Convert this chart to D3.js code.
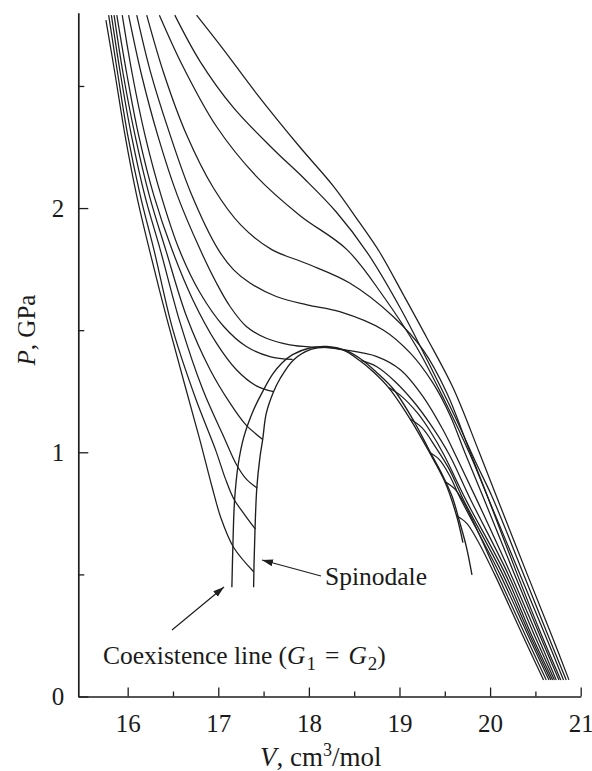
<!DOCTYPE html>
<html>
<head>
<meta charset="utf-8">
<script src="https://cdn.jsdelivr.net/npm/d3@7/dist/d3.min.js"></script>
<style>
  body { margin: 0; background: #fff; }
  svg text { font-family: "Liberation Serif", "Times New Roman", serif; fill: #1a1a1a; }
</style>
</head>
<body>
<div id="canvas"></div>
<script>
const width = 592;
const height = 771;

// isotherms, hottest first, points are [V cm3/mol, P GPa]
const iso1 = [[16.76,2.79],[17.06,2.648],[17.42,2.47],[17.90,2.25],[18.27,2.09],[18.56,1.94],[18.78,1.82],[19.05,1.64],[19.30,1.47],[19.59,1.265],[19.88,1.0],[20.07,0.82],[20.41,0.5],[20.68,0.25],[20.87,0.068]];
const iso2 = [[16.52,2.79],[16.80,2.60],[17.17,2.41],[17.61,2.24],[17.95,2.12],[18.30,1.985],[18.64,1.82],[19.01,1.59],[19.37,1.33],[19.62,1.14],[19.84,0.96],[20.02,0.82],[20.37,0.5],[20.64,0.25],[20.84,0.068]];
const iso3 = [[16.35,2.79],[16.61,2.58],[16.98,2.334],[17.42,2.13],[17.90,1.97],[18.42,1.83],[18.82,1.64],[19.19,1.43],[19.50,1.21],[19.78,0.99],[19.97,0.82],[20.33,0.5],[20.61,0.25],[20.81,0.068]];
const iso4 = [[16.21,2.79],[16.40,2.55],[16.65,2.30],[16.95,2.08],[17.25,1.93],[17.59,1.83],[17.98,1.772],[18.45,1.693],[18.93,1.556],[19.26,1.419],[19.52,1.245],[19.76,1.02],[19.96,0.83],[20.30,0.5],[20.57,0.25],[20.78,0.068]];
const iso5 = [[16.10,2.79],[16.25,2.56],[16.45,2.32],[16.70,2.06],[17.00,1.83],[17.17,1.747],[17.35,1.693],[17.64,1.638],[17.98,1.604],[18.34,1.576],[18.82,1.501],[19.12,1.406],[19.37,1.283],[19.56,1.15],[19.72,1.0],[19.92,0.82],[20.27,0.5],[20.55,0.25],[20.76,0.068]];
const iso6 = [[16.01,2.79],[16.15,2.55],[16.33,2.30],[16.55,2.05],[16.80,1.83],[16.98,1.693],[17.13,1.597],[17.31,1.515],[17.53,1.467],[17.79,1.44],[18.03,1.431],[18.20,1.429],[18.38,1.42],[18.75,1.392],[19.01,1.338],[19.26,1.228],[19.48,1.092],[19.63,0.98],[19.86,0.80],[20.23,0.5],[20.52,0.25],[20.73,0.068]];
const iso7Left = [[15.94,2.79],[16.05,2.55],[16.19,2.30],[16.37,2.05],[16.57,1.829],[16.80,1.652],[17.06,1.515],[17.31,1.433],[17.57,1.392],[17.82,1.38]];
const iso7Right = [[18.58,1.376],[18.75,1.35],[18.95,1.29],[19.15,1.21],[19.35,1.11],[19.55,0.99],[19.78,0.81],[20.20,0.5],[20.49,0.25],[20.71,0.068]];
const iso8Left = [[15.88,2.79],[15.99,2.55],[16.12,2.30],[16.29,2.05],[16.49,1.829],[16.72,1.624],[16.98,1.447],[17.20,1.338],[17.42,1.272],[17.61,1.248]];
const iso8Right = [[18.88,1.265],[19.02,1.23],[19.20,1.16],[19.35,1.08],[19.49,0.99],[19.74,0.80],[20.17,0.5],[20.46,0.25],[20.69,0.068]];
const iso9Left = [[15.85,2.79],[15.95,2.55],[16.08,2.30],[16.24,2.05],[16.42,1.829],[16.65,1.556],[16.91,1.338],[17.13,1.201],[17.31,1.11],[17.49,1.052]];
const iso9Right = [[19.12,1.135],[19.25,1.10],[19.40,1.02],[19.55,0.93],[19.70,0.81],[20.14,0.5],[20.44,0.25],[20.67,0.068]];
const iso10Left = [[15.82,2.79],[15.92,2.55],[16.04,2.30],[16.19,2.05],[16.36,1.829],[16.58,1.529],[16.83,1.256],[17.06,1.064],[17.20,0.95],[17.31,0.89],[17.43,0.853]];
const iso10Right = [[19.33,1.0],[19.44,0.97],[19.56,0.90],[19.66,0.82],[20.11,0.5],[20.42,0.25],[20.65,0.068]];
const iso11Left = [[15.79,2.79],[15.89,2.55],[16.00,2.30],[16.14,2.05],[16.29,1.829],[16.50,1.50],[16.75,1.22],[16.97,1.01],[17.08,0.89],[17.17,0.81],[17.28,0.75],[17.41,0.685]];
const iso11Right = [[19.50,0.88],[19.61,0.85],[19.73,0.78],[20.08,0.5],[20.39,0.25],[20.62,0.068]];
const iso12Left = [[15.76,2.77],[15.86,2.55],[15.97,2.30],[16.10,2.05],[16.24,1.829],[16.43,1.55],[16.62,1.29],[16.79,1.06],[16.93,0.86],[17.03,0.73],[17.17,0.61],[17.39,0.511]];
const iso12Right = [[19.63,0.74],[19.74,0.71],[19.86,0.64],[20.05,0.5],[20.36,0.25],[20.59,0.068]];

const coexLine = [[17.15,0.447],[17.16,0.60],[17.18,0.805],[17.22,0.95],[17.28,1.06],[17.39,1.174],[17.50,1.256],[17.60,1.32],[17.70,1.365],[17.82,1.40],[18.01,1.427],[18.20,1.433],[18.40,1.418],[18.58,1.38],[18.74,1.33],[18.93,1.26],[19.17,1.12],[19.34,1.0],[19.47,0.91],[19.58,0.82],[19.66,0.72],[19.74,0.61],[19.80,0.498]];
const spinodal = [[17.39,0.447],[17.395,0.55],[17.405,0.68],[17.425,0.853],[17.46,0.98],[17.49,1.052],[17.53,1.16],[17.61,1.248],[17.68,1.30],[17.83,1.378],[18.03,1.422],[18.20,1.43],[18.38,1.418],[18.56,1.376],[18.71,1.33],[18.88,1.265],[19.12,1.135],[19.33,1.0],[19.50,0.88],[19.63,0.74],[19.70,0.63]];

const xTicks = [16, 17, 18, 19, 20, 21];
const xMinorTicks = [16.5, 17.5, 18.5, 19.5, 20.5];
const yTicks = [0, 1, 2];
const yMinorTicks = [0.5, 1.5, 2.5];

const isotherms = [iso1, iso2, iso3, iso4, iso5, iso6,
    iso7Left, iso7Right, iso8Left, iso8Right, iso9Left, iso9Right,
    iso10Left, iso10Right, iso11Left, iso11Right, iso12Left, iso12Right];

const svg = d3.select("#canvas")
    .append("svg")
    .attr("width", width)
    .attr("height", height);

const x = d3.scaleLinear().domain([15.455, 21]).range([78.3, 580.7]);
const y = d3.scaleLinear().domain([0, 2.8]).range([696.5, 12.7]);

const line = d3.line()
    .x(d => x(d[0]))
    .y(d => y(d[1]))
    .curve(d3.curveCatmullRom.alpha(0.5));

let inkColor = "#1e1e1e";

svg.selectAll("path.iso")
    .data(isotherms)
    .enter()
    .append("path")
    .attr("class", "iso")
    .attr("d", line)
    .attr("fill", "none")
    .attr("stroke", inkColor)
    .attr("stroke-width", 1.25);

svg.selectAll("path.phase")
    .data([coexLine, spinodal])
    .enter()
    .append("path")
    .attr("class", "phase")
    .attr("d", line)
    .attr("fill", "none")
    .attr("stroke", inkColor)
    .attr("stroke-width", 1.35);

// axes, ticks point inward
svg.append("g")
    .attr("transform", "translate(0," + y(0) + ")")
    .call(d3.axisBottom(x).tickValues(xTicks).tickSizeInner(-9).tickSizeOuter(0).tickPadding(18).tickFormat(d3.format("d")));

svg.append("g")
    .attr("transform", "translate(0," + y(0) + ")")
    .call(d3.axisBottom(x).tickValues(xMinorTicks).tickSizeInner(-5).tickSizeOuter(0).tickFormat(""))
    .select(".domain").remove();

svg.append("g")
    .attr("transform", "translate(" + x(15.455) + ",0)")
    .call(d3.axisLeft(y).tickValues(yTicks).tickSizeInner(-10).tickSizeOuter(0).tickPadding(14).tickFormat(d3.format("d")));

svg.append("g")
    .attr("transform", "translate(" + x(15.455) + ",0)")
    .call(d3.axisLeft(y).tickValues(yMinorTicks).tickSizeInner(-6).tickSizeOuter(0).tickFormat(""))
    .select(".domain").remove();

svg.selectAll(".domain").attr("stroke", inkColor).attr("stroke-width", 1.7);
svg.selectAll(".tick line").attr("stroke", inkColor).attr("stroke-width", 1.3);
svg.selectAll(".tick text")
    .attr("font-size", 25)
    .attr("fill", inkColor);

// axis titles
const xTitle = svg.append("text")
    .attr("x", 260)
    .attr("y", 766)
    .attr("font-size", 27);
xTitle.append("tspan").attr("font-style", "italic").text("V");
xTitle.append("tspan").text(", cm");
xTitle.append("tspan").attr("font-size", 18).attr("dy", -10).text("3");
xTitle.append("tspan").attr("dy", 10).text("/mol");

const yTitle = svg.append("text")
    .attr("transform", "translate(35,330) rotate(-90)")
    .attr("text-anchor", "middle")
    .attr("font-size", 25);
yTitle.append("tspan").attr("font-style", "italic").text("P");
yTitle.append("tspan").text(", GPa");

// annotations
svg.append("defs").append("marker")
    .attr("id", "head")
    .attr("markerUnits", "userSpaceOnUse")
    .attr("markerWidth", 12)
    .attr("markerHeight", 8)
    .attr("refX", 11)
    .attr("refY", 3.5)
    .attr("orient", "auto")
    .append("path")
    .attr("d", "M0,0 L11,3.5 L0,7 Z")
    .attr("fill", inkColor);

svg.append("line")
    .attr("x1", 172).attr("y1", 630)
    .attr("x2", 224).attr("y2", 587)
    .attr("stroke", inkColor)
    .attr("stroke-width", 1.2)
    .attr("marker-end", "url(#head)");

svg.append("line")
    .attr("x1", 321).attr("y1", 576)
    .attr("x2", 262).attr("y2", 560)
    .attr("stroke", inkColor)
    .attr("stroke-width", 1.2)
    .attr("marker-end", "url(#head)");

svg.append("text")
    .attr("x", 325)
    .attr("y", 585)
    .attr("font-size", 25.5)
    .text("Spinodale");

const coexText = svg.append("text")
    .attr("x", 103)
    .attr("y", 664)
    .attr("font-size", 25.5);
coexText.append("tspan").text("Coexistence line (");
coexText.append("tspan").attr("font-style", "italic").text("G");
coexText.append("tspan").attr("font-size", 19).attr("dx", 1).attr("dy", 6).text("1");
coexText.append("tspan").attr("dx", 9).attr("dy", -6).text("=");
coexText.append("tspan").attr("font-style", "italic").attr("dx", 9).text("G");
coexText.append("tspan").attr("font-size", 19).attr("dx", 1).attr("dy", 6).text("2");
coexText.append("tspan").attr("dy", -6).text(")");
</script>
</body>
</html>
